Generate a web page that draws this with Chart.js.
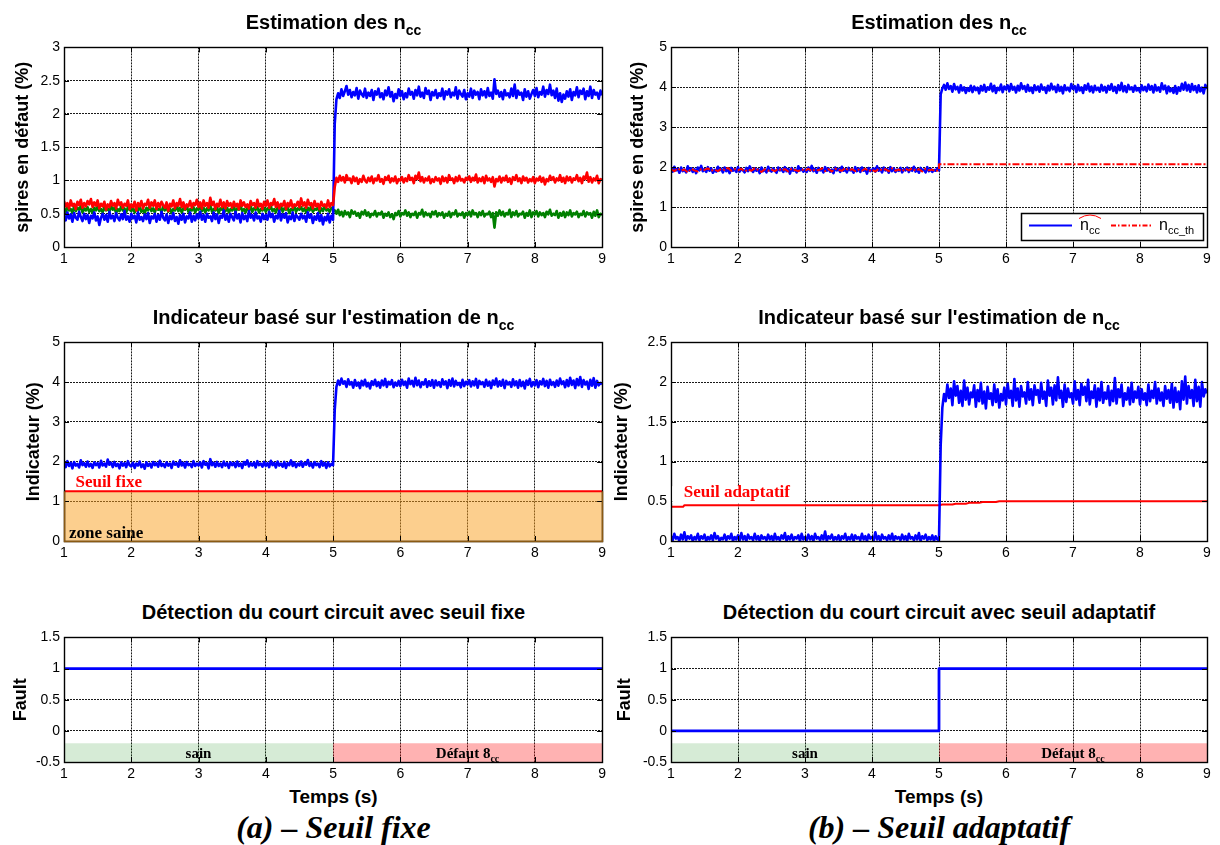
<!DOCTYPE html>
<html>
<head>
<meta charset="utf-8">
<script src="https://cdn.jsdelivr.net/npm/chart.js@4.4.1/dist/chart.umd.min.js"></script>
<style>
  body { margin: 0; background: #fff; width: 1220px; height: 845px; position: relative; overflow: hidden;
         font-family: "Liberation Sans", Arial, sans-serif; }
  canvas { position: absolute; }
  .ttl { position: absolute; width: 540px; text-align: center; font-weight: bold; font-size: 20px;
         line-height: 22px; white-space: nowrap; color: #000; }
  .ttl sub { font-size: 14px; vertical-align: -6px; line-height: 0; }
  .xl { position: absolute; width: 540px; text-align: center; font-weight: bold; font-size: 19px; line-height: 20px; }
  .cap { position: absolute; width: 540px; text-align: center; font-family: "Liberation Serif", "Times New Roman", serif;
         font-style: italic; font-weight: bold; font-size: 32px; line-height: 34px; }
</style>
</head>
<body>
<canvas id="c1" width="610" height="230" style="left:0;top:35px"></canvas>
<canvas id="c2" width="610" height="230" style="left:610px;top:35px"></canvas>
<canvas id="c3" width="610" height="229" style="left:0;top:330px"></canvas>
<canvas id="c4" width="610" height="229" style="left:610px;top:330px"></canvas>
<canvas id="c5" width="610" height="155" style="left:0;top:625px"></canvas>
<canvas id="c6" width="610" height="155" style="left:610px;top:625px"></canvas>

<div class="ttl" style="left:63.5px;top:11px">Estimation des n<sub>cc</sub></div>
<div class="ttl" style="left:669px;top:11px">Estimation des n<sub>cc</sub></div>
<div class="ttl" style="left:63.5px;top:306px">Indicateur basé sur l'estimation de n<sub>cc</sub></div>
<div class="ttl" style="left:669px;top:306px">Indicateur basé sur l'estimation de n<sub>cc</sub></div>
<div class="ttl" style="left:63.5px;top:601px">Détection du court circuit avec seuil fixe</div>
<div class="ttl" style="left:669px;top:601px">Détection du court circuit avec seuil adaptatif</div>
<div class="xl" style="left:63.5px;top:787px">Temps (s)</div>
<div class="xl" style="left:669px;top:787px">Temps (s)</div>
<div class="cap" style="left:63.5px;top:810px">(a) – Seuil fixe</div>
<div class="cap" style="left:669px;top:810px">(b) – Seuil adaptatif</div>

<script>
// sampling grid of the noisy estimates: 1 s .. 9 s every 0.025 s (321 samples)
const tGrid = [];
for (let i = 0; i <= 320; i++) tGrid.push((1000 + i * 25) / 1000);
const tCoarse = tGrid.filter((v, i) => i % 2 === 0);   // 0.05 s, used by ncc_th

// axis ticks
const xTicks = [1, 2, 3, 4, 5, 6, 7, 8, 9];
const yTicksEst = [0, 0.5, 1, 1.5, 2, 2.5, 3];
const yTicks05 = [0, 1, 2, 3, 4, 5];
const yTicksInd = [0, 0.5, 1, 1.5, 2, 2.5];
const yTicksFault = [-0.5, 0, 0.5, 1, 1.5];

// (a) top: estimation of ncc, three phases (one row of 20 = half a second)
const nccBlueA = [
  0.47,0.40,0.52,0.43,0.49,0.38,0.51,0.44,0.41,0.53,0.45,0.39,0.50,0.42,0.48,0.36,0.47,0.43,0.52,0.40,
  0.46,0.33,0.44,0.50,0.41,0.48,0.38,0.53,0.43,0.47,0.39,0.51,0.44,0.40,0.49,0.42,0.54,0.41,0.46,0.38,
  0.50,0.43,0.47,0.37,0.52,0.41,0.45,0.39,0.49,0.42,0.51,0.36,0.46,0.43,0.50,0.38,0.48,0.41,0.53,0.44,
  0.40,0.49,0.36,0.47,0.42,0.51,0.39,0.45,0.35,0.48,0.41,0.50,0.37,0.46,0.43,0.52,0.38,0.47,0.40,0.49,
  0.43,0.53,0.41,0.48,0.38,0.50,0.44,0.46,0.39,0.52,0.42,0.49,0.36,0.47,0.44,0.55,0.41,0.48,0.38,0.50,
  0.45,0.40,0.53,0.43,0.49,0.37,0.51,0.42,0.47,0.39,0.54,0.44,0.48,0.40,0.52,0.43,0.46,0.38,0.50,0.42,
  0.48,0.41,0.53,0.45,0.50,0.38,0.47,0.43,0.55,0.40,0.49,0.44,0.51,0.37,0.46,0.42,0.52,0.39,0.48,0.45,
  0.41,0.50,0.43,0.47,0.38,0.52,0.44,0.49,0.36,0.46,0.41,0.51,0.39,0.48,0.34,0.45,0.40,0.50,0.37,0.47,
  0.41,1.85,2.22,2.31,2.24,2.37,2.27,2.34,2.42,2.29,2.36,2.25,2.33,2.28,2.39,2.23,2.35,2.30,2.26,2.38,
  2.24,2.32,2.27,2.36,2.21,2.34,2.29,2.38,2.25,2.31,2.22,2.35,2.28,2.40,2.26,2.33,2.19,2.30,2.24,2.37,
  2.27,2.34,2.22,2.31,2.25,2.38,2.29,2.33,2.23,2.36,2.28,2.41,2.26,2.32,2.24,2.39,2.30,2.35,2.21,2.33,
  2.28,2.36,2.24,2.31,2.27,2.38,2.22,2.34,2.29,2.37,2.25,2.32,2.28,2.40,2.23,2.35,2.30,2.26,2.36,2.22,
  2.31,2.26,2.38,2.24,2.35,2.29,2.33,2.22,2.37,2.28,2.34,2.25,2.39,2.27,2.32,2.23,2.52,2.30,2.35,2.26,
  2.33,2.22,2.36,2.28,2.31,2.25,2.38,2.27,2.44,2.24,2.35,2.29,2.32,2.21,2.37,2.26,2.34,2.23,2.30,2.36,
  2.27,2.39,2.25,2.33,2.29,2.41,2.26,2.36,2.30,2.44,2.28,2.35,2.24,2.38,2.20,2.31,2.18,2.29,2.23,2.34,
  2.26,2.37,2.21,2.33,2.28,2.40,2.25,2.35,2.30,2.38,2.22,2.34,2.27,2.41,2.24,2.36,2.29,2.32,2.23,2.35,
  2.28
];
const nccRedA = [
  0.69,0.61,0.66,0.58,0.70,0.62,0.65,0.57,0.68,0.63,0.71,0.59,0.66,0.61,0.69,0.64,0.72,0.60,0.67,0.62,
  0.70,0.58,0.65,0.61,0.68,0.56,0.64,0.60,0.69,0.62,0.66,0.58,0.71,0.63,0.67,0.59,0.65,0.62,0.70,0.57,
  0.64,0.60,0.68,0.55,0.66,0.61,0.69,0.58,0.65,0.63,0.71,0.59,0.67,0.62,0.70,0.57,0.66,0.60,0.68,0.63,
  0.59,0.67,0.54,0.65,0.61,0.70,0.58,0.66,0.62,0.72,0.60,0.67,0.57,0.64,0.61,0.69,0.59,0.66,0.63,0.71,
  0.60,0.67,0.58,0.70,0.62,0.66,0.59,0.74,0.63,0.68,0.57,0.65,0.61,0.71,0.60,0.67,0.58,0.69,0.62,0.66,
  0.59,0.68,0.61,0.65,0.57,0.70,0.62,0.67,0.60,0.64,0.58,0.69,0.63,0.66,0.59,0.71,0.61,0.65,0.57,0.68,
  0.62,0.70,0.59,0.66,0.63,0.72,0.60,0.67,0.58,0.65,0.62,0.69,0.57,0.66,0.61,0.70,0.59,0.64,0.62,0.68,
  0.60,0.73,0.62,0.67,0.59,0.71,0.63,0.66,0.58,0.69,0.61,0.65,0.57,0.68,0.62,0.64,0.59,0.70,0.60,0.66,
  0.63,0.90,1.04,0.98,1.07,1.00,1.05,0.97,1.08,1.01,1.03,0.96,1.06,0.99,1.04,0.95,1.02,0.98,1.07,1.00,
  0.97,1.04,0.99,1.06,0.96,1.03,1.00,1.08,0.98,1.02,0.95,1.05,1.01,1.07,0.97,1.03,0.99,1.06,0.96,1.02,
  1.00,1.05,0.97,1.03,0.99,1.08,1.01,1.04,0.96,1.07,1.02,1.12,0.99,1.05,0.97,1.03,1.00,1.06,0.96,1.02,
  0.98,1.05,1.00,1.03,0.95,1.06,0.99,1.04,0.97,1.08,1.01,1.03,0.96,1.05,0.99,1.07,1.00,1.02,0.97,1.04,
  1.01,1.06,0.98,1.04,1.00,1.09,0.97,1.03,0.99,1.05,0.96,1.07,1.00,1.03,0.98,1.05,0.91,1.02,0.99,1.06,
  0.97,1.04,1.00,1.07,0.98,1.03,0.95,1.05,1.01,1.08,0.99,1.03,0.96,1.06,1.00,1.04,0.97,1.02,0.99,1.05,
  0.96,1.03,1.00,1.06,0.98,1.04,0.94,1.02,0.99,1.07,1.01,1.05,0.97,1.03,1.00,1.08,0.98,1.04,0.96,1.06,
  1.00,1.05,0.97,1.03,1.01,1.08,0.99,1.04,0.96,1.06,1.02,1.12,0.98,1.05,0.97,1.03,1.00,1.07,0.96,1.02,
  1.01
];
const nccGreenA = [
  0.58,0.53,0.60,0.55,0.57,0.51,0.61,0.54,0.59,0.56,0.62,0.52,0.58,0.55,0.60,0.53,0.57,0.51,0.59,0.55,
  0.61,0.54,0.57,0.52,0.60,0.55,0.58,0.53,0.62,0.56,0.59,0.51,0.57,0.54,0.61,0.55,0.58,0.52,0.60,0.56,
  0.54,0.59,0.52,0.58,0.55,0.61,0.53,0.57,0.50,0.59,0.55,0.62,0.54,0.58,0.52,0.60,0.56,0.57,0.53,0.61,
  0.55,0.60,0.53,0.58,0.51,0.57,0.55,0.62,0.54,0.59,0.52,0.58,0.56,0.61,0.53,0.57,0.55,0.60,0.52,0.58,
  0.56,0.61,0.54,0.59,0.52,0.58,0.55,0.63,0.53,0.57,0.55,0.60,0.51,0.58,0.56,0.61,0.54,0.59,0.52,0.57,
  0.55,0.60,0.53,0.58,0.56,0.62,0.54,0.57,0.52,0.59,0.55,0.61,0.53,0.58,0.56,0.60,0.52,0.57,0.55,0.59,
  0.53,0.58,0.56,0.61,0.54,0.57,0.52,0.60,0.55,0.62,0.53,0.58,0.56,0.59,0.51,0.57,0.55,0.61,0.53,0.58,
  0.56,0.60,0.54,0.58,0.52,0.59,0.55,0.61,0.53,0.57,0.56,0.60,0.52,0.58,0.54,0.62,0.55,0.57,0.53,0.59,
  0.56,0.55,0.50,0.56,0.48,0.53,0.46,0.54,0.49,0.52,0.45,0.55,0.50,0.53,0.47,0.51,0.44,0.53,0.49,0.55,
  0.47,0.52,0.45,0.50,0.48,0.54,0.46,0.51,0.49,0.53,0.44,0.50,0.47,0.52,0.45,0.49,0.42,0.51,0.48,0.54,
  0.46,0.51,0.49,0.55,0.47,0.52,0.45,0.50,0.48,0.53,0.44,0.51,0.49,0.56,0.46,0.52,0.48,0.50,0.45,0.53,
  0.49,0.54,0.46,0.51,0.48,0.52,0.44,0.50,0.47,0.53,0.45,0.51,0.49,0.55,0.46,0.50,0.48,0.52,0.44,0.51,
  0.48,0.53,0.46,0.55,0.49,0.51,0.45,0.52,0.48,0.54,0.46,0.50,0.49,0.53,0.45,0.51,0.29,0.52,0.47,0.55,
  0.48,0.53,0.46,0.51,0.49,0.56,0.45,0.52,0.48,0.54,0.46,0.50,0.49,0.53,0.44,0.51,0.47,0.55,0.45,0.52,
  0.49,0.54,0.46,0.52,0.48,0.51,0.45,0.53,0.49,0.56,0.47,0.50,0.48,0.54,0.44,0.51,0.47,0.53,0.45,0.52,
  0.48,0.55,0.46,0.51,0.49,0.53,0.45,0.50,0.48,0.54,0.46,0.52,0.49,0.51,0.44,0.53,0.47,0.55,0.45,0.50,
  0.48
];

// (b) top: estimated ncc and theoretical ncc_th
const nccHatB = [
  1.97,1.89,2.01,1.92,1.96,1.86,1.99,1.90,1.94,1.87,2.02,1.91,1.97,1.88,1.95,1.85,1.99,1.92,2.03,1.90,
  1.95,1.88,2.00,1.91,1.97,1.86,1.93,1.89,2.01,1.92,1.96,1.87,1.99,1.90,1.94,1.85,1.98,1.91,1.95,1.88,
  2.00,1.89,1.96,1.92,1.87,1.98,1.90,2.02,1.93,1.88,1.97,1.91,1.95,1.85,1.99,1.90,1.94,1.87,2.01,1.92,
  1.89,1.97,1.91,1.86,1.99,1.92,1.95,1.88,2.00,1.90,1.96,1.84,1.98,1.91,1.94,1.87,2.02,1.92,1.96,1.89,
  1.94,1.88,1.99,1.91,2.03,1.90,1.96,1.86,1.98,1.92,1.95,1.87,2.00,1.91,1.97,1.89,1.94,1.85,1.99,1.92,
  1.96,1.88,2.01,1.91,1.95,1.87,1.98,1.92,1.94,1.86,2.00,1.90,1.97,1.88,1.99,1.91,1.95,1.84,1.98,1.90,
  1.93,1.97,1.89,2.02,1.91,1.96,1.87,1.99,1.92,1.95,1.86,2.00,1.90,1.97,1.88,1.94,1.91,1.98,1.87,1.95,
  1.92,1.99,1.88,1.96,1.91,2.01,1.89,1.95,1.86,1.98,1.92,1.94,1.87,2.00,1.90,1.96,1.88,1.93,1.91,1.97,
  1.92,3.82,3.97,4.06,3.94,4.10,3.96,4.03,3.89,4.08,3.95,4.01,3.87,4.05,3.92,4.00,3.86,3.98,3.91,4.04,
  3.88,4.02,3.93,3.99,3.85,4.03,3.92,4.06,3.89,4.00,3.94,4.09,3.90,4.04,3.86,3.99,3.93,4.07,3.88,4.02,
  3.95,4.05,3.90,4.08,3.94,4.01,3.87,4.04,3.92,4.10,3.96,4.03,3.89,4.06,3.91,3.99,3.86,4.05,3.93,4.02,
  3.89,4.07,3.94,4.00,3.86,4.04,3.92,4.09,3.95,4.02,3.88,4.06,3.91,4.01,3.85,4.05,3.93,3.99,3.90,4.08,
  3.96,4.03,3.88,4.06,3.92,4.00,3.86,4.05,3.94,4.09,3.90,4.02,3.87,4.04,3.93,3.99,3.89,4.06,3.92,4.01,
  3.87,4.04,3.94,4.08,3.91,4.01,3.86,4.05,3.93,4.11,3.90,4.03,3.88,4.06,3.95,4.00,3.89,4.04,3.92,3.98,
  3.88,4.05,3.93,4.01,3.90,4.07,3.94,4.03,3.87,4.06,3.92,4.00,3.89,4.10,3.95,4.04,3.85,4.02,3.90,3.97,
  3.86,4.03,3.84,4.00,3.91,4.09,3.94,4.12,3.92,4.06,3.89,4.08,3.93,4.03,3.87,4.05,3.90,3.99,3.85,4.06,
  3.96
];
const nccThPre = [
  1.95,1.90,1.97,1.91,1.94,1.87,1.96,1.92,1.89,1.95,1.93,1.97,1.91,1.94,1.90,1.96,1.93,1.98,1.91,1.95,
  1.92,1.96,1.89,1.94,1.91,1.97,1.93,1.88,1.95,1.91,1.94,1.90,1.96,1.92,1.95,1.89,1.96,1.93,1.90,1.95,
  1.91,1.96,1.90,1.94,1.92,1.97,1.90,1.95,1.89,1.96,1.93,1.91,1.98,1.92,1.95,1.90,1.94,1.91,1.96,1.90,
  1.94,1.89,1.96,1.92,1.95,1.90,1.97,1.91,1.94,1.90,1.96,1.92,1.97,1.91,1.95,1.89,1.96,1.92,1.94,1.90,
  1.93
];
const nccThPostT = [5.0, 9.0];
const nccThPost = [2.07, 2.07];

// (a) middle: indicator and fixed threshold
const indA = [
  1.95,1.86,2.01,1.89,1.97,1.83,1.99,1.90,1.94,1.85,2.03,1.91,1.96,1.87,2.00,1.88,1.94,1.84,1.98,1.91,
  1.96,1.85,2.02,1.90,1.95,1.87,2.05,1.92,1.97,1.86,1.99,1.89,1.94,1.83,1.98,1.90,1.96,1.86,2.01,1.91,
  1.88,1.97,1.84,1.95,1.90,2.00,1.86,1.93,1.82,1.98,1.89,1.95,1.85,1.99,1.91,1.96,1.87,2.02,1.89,1.94,
  1.86,1.98,1.90,1.95,1.84,2.00,1.92,1.96,1.87,2.03,1.90,1.97,1.85,1.99,1.91,1.94,1.86,2.01,1.89,1.95,
  1.90,1.98,1.85,2.01,1.92,1.96,1.83,2.06,1.91,1.97,1.87,1.99,1.89,1.95,1.86,2.00,1.90,1.96,1.84,1.98,
  1.91,1.97,1.86,2.00,1.89,1.95,1.84,1.99,1.92,2.03,1.88,1.96,1.90,1.98,1.85,2.01,1.91,1.95,1.87,1.99,
  1.89,1.96,1.86,2.02,1.91,1.97,1.85,2.00,1.90,1.95,1.87,1.99,1.84,1.96,1.91,2.03,1.89,1.98,1.86,1.95,
  1.90,2.00,1.87,1.97,1.92,2.04,1.89,1.96,1.85,1.99,1.91,1.95,1.86,2.01,1.90,1.97,1.84,1.98,1.88,1.94,
  1.91,3.30,3.88,4.04,3.93,4.09,3.96,4.02,3.88,4.07,3.94,4.00,3.86,4.05,3.91,3.99,3.85,4.03,3.92,4.06,
  3.89,3.98,3.84,4.02,3.93,4.06,3.90,4.00,3.86,4.04,3.92,4.08,3.88,4.01,3.94,4.05,3.87,3.99,3.91,4.03,
  3.90,4.06,3.93,4.01,3.86,4.09,3.95,4.03,3.89,4.11,3.92,4.04,3.87,4.00,3.94,4.07,3.88,4.02,3.91,4.05,
  3.86,4.04,3.92,4.00,3.88,4.07,3.94,4.02,3.85,4.05,3.91,4.09,3.89,4.03,3.93,3.98,3.87,4.06,3.90,4.01,
  3.94,4.05,3.89,4.02,3.92,4.08,3.86,4.03,3.95,4.00,3.88,4.06,3.91,4.01,3.85,4.04,3.93,4.09,3.89,4.02,
  3.91,4.06,3.85,4.03,3.94,4.00,3.88,4.07,3.92,4.02,3.86,4.05,3.90,4.01,3.84,4.04,3.93,4.08,3.89,4.00,
  3.92,4.05,3.87,4.02,3.94,4.08,3.90,4.03,3.86,4.06,3.93,4.00,3.88,4.04,3.91,4.09,3.95,4.02,3.87,4.05,
  3.90,4.11,3.93,4.04,3.85,4.08,3.92,4.13,3.88,4.05,3.94,4.01,3.83,4.06,3.91,4.10,3.86,4.03,3.92,3.98,
  3.95
];
const fixT = [1, 9];
const fixThr = [1.25, 1.25];

// (b) middle: indicator and adaptive threshold
const indB = [
  0.06,0.01,0.09,0.03,0.05,0.00,0.08,0.02,0.11,0.01,0.06,0.03,0.07,0.00,0.05,0.02,0.09,0.01,0.06,0.03,
  0.08,0.00,0.05,0.02,0.07,0.01,0.10,0.03,0.06,0.00,0.04,0.02,0.08,0.01,0.06,0.03,0.09,0.00,0.05,0.02,
  0.07,0.01,0.10,0.02,0.06,0.00,0.08,0.03,0.05,0.01,0.09,0.02,0.06,0.00,0.07,0.03,0.05,0.01,0.08,0.02,
  0.06,0.00,0.09,0.02,0.05,0.01,0.07,0.03,0.10,0.00,0.06,0.02,0.08,0.01,0.05,0.03,0.07,0.00,0.09,0.02,
  0.05,0.01,0.08,0.02,0.06,0.00,0.09,0.03,0.05,0.01,0.07,0.02,0.12,0.00,0.06,0.03,0.08,0.01,0.05,0.02,
  0.07,0.00,0.06,0.03,0.09,0.01,0.05,0.02,0.08,0.00,0.07,0.03,0.05,0.01,0.09,0.02,0.06,0.00,0.08,0.03,
  0.05,0.01,0.11,0.02,0.06,0.00,0.08,0.03,0.05,0.01,0.07,0.02,0.09,0.00,0.06,0.03,0.05,0.01,0.08,0.02,
  0.06,0.00,0.09,0.03,0.05,0.01,0.07,0.02,0.10,0.00,0.06,0.03,0.08,0.01,0.05,0.02,0.07,0.00,0.06,0.02,
  0.01,1.20,1.68,1.85,1.76,1.97,1.80,1.92,1.71,2.01,1.83,1.95,1.74,1.89,1.70,2.02,1.78,1.93,1.72,1.87,
  1.81,1.96,1.69,1.90,1.76,1.99,1.73,1.88,1.67,1.94,1.79,1.86,1.71,1.97,1.75,1.91,1.68,1.85,1.77,1.93,
  1.72,1.98,1.80,1.89,1.70,2.04,1.77,1.92,1.69,1.95,1.82,1.87,1.73,2.00,1.78,1.91,1.71,1.96,1.84,1.90,
  1.74,1.99,1.79,1.88,1.70,2.02,1.83,1.93,1.72,1.96,1.77,2.06,1.80,1.89,1.69,1.97,1.75,1.92,1.81,1.86,
  1.73,2.01,1.78,1.90,1.71,1.98,1.84,1.94,1.76,2.03,1.72,1.88,1.80,1.96,1.69,1.92,1.77,2.00,1.74,1.87,
  1.79,1.95,1.71,1.89,1.76,2.05,1.73,1.91,1.81,1.97,1.70,1.86,1.78,1.93,1.72,1.99,1.75,1.88,1.80,1.94,
  1.72,1.91,1.78,1.86,1.71,1.97,1.76,1.89,1.80,2.00,1.73,1.92,1.77,1.87,1.70,1.95,1.79,1.90,1.74,1.98,
  1.68,1.93,1.75,1.88,1.66,2.01,1.78,2.07,1.73,1.95,1.80,1.90,1.70,2.03,1.76,1.94,1.69,2.00,1.82,1.91,
  1.86
];
const adaptT = [1, 1.18, 1.2, 5.0, 5.05, 5.2, 5.25, 5.4, 5.45, 5.6, 5.65, 5.85, 5.9, 9];
const adaptThr = [0.43, 0.43, 0.45, 0.45, 0.46, 0.46, 0.47, 0.47, 0.48, 0.48, 0.49, 0.49, 0.50, 0.50];

// bottom: fault flags
const faultAT = [1, 9];
const faultA = [1, 1];
const faultBT = [1, 5, 5, 9];
const faultB = [0, 0, 1, 1];

// bottom: background zones (healthy / 8 turns fault)
const zoneSainT = [1, 5];
const zoneDefT = [5, 9];
const zoneTop = [-0.2, -0.2];

const SANS = '"Liberation Sans", Arial, sans-serif';
const SERIF = '"Liberation Serif", "Times New Roman", serif';
Chart.defaults.font.family = SANS;
Chart.defaults.color = '#000';

const NOISY_W = 2.6;

const pts = (xs, ys) => xs.map((x, i) => ({ x: x, y: ys[i] }));

function lineDs(xs, ys, color, width, extra) {
  return Object.assign({
    data: pts(xs, ys), borderColor: color, borderWidth: width, pointRadius: 0,
    fill: false, tension: 0, order: 1, borderJoinStyle: 'round'
  }, extra || {});
}

function zoneDs(xs, ys, bg) {
  return { data: pts(xs, ys), borderWidth: 0, borderColor: 'rgba(0,0,0,0)', backgroundColor: bg,
           pointRadius: 0, fill: 'start', order: 10 };
}

// MATLAB-like box with inward ticks on all sides
const boxPlugin = {
  id: 'box',
  afterDatasetsDraw(chart) {
    const { ctx, chartArea: a, scales: { x, y } } = chart;
    ctx.save();
    ctx.setLineDash([]);
    ctx.strokeStyle = '#000';
    ctx.lineWidth = 1;
    ctx.beginPath();
    x.ticks.forEach(tk => {
      const px = Math.round(x.getPixelForValue(tk.value)) + 0.5;
      ctx.moveTo(px, a.bottom); ctx.lineTo(px, a.bottom - 5);
      ctx.moveTo(px, a.top); ctx.lineTo(px, a.top + 5);
    });
    y.ticks.forEach(tk => {
      const py = Math.round(y.getPixelForValue(tk.value)) + 0.5;
      ctx.moveTo(a.left, py); ctx.lineTo(a.left + 5, py);
      ctx.moveTo(a.right, py); ctx.lineTo(a.right - 5, py);
    });
    ctx.stroke();
    ctx.lineWidth = 1.4;
    const l = Math.round(a.left) + 0.5, t = Math.round(a.top) + 0.5;
    ctx.strokeRect(l, t, Math.round(a.right) - Math.round(a.left), Math.round(a.bottom) - Math.round(a.top));
    ctx.restore();
  }
};

function subText(ctx, x, y, main, sub, size, family, weight, align) {
  const subSize = Math.round(size * 0.68);
  ctx.font = `${weight} ${size}px ${family}`;
  const w1 = ctx.measureText(main).width;
  ctx.font = `${weight} ${subSize}px ${family}`;
  const w2 = ctx.measureText(sub).width;
  const x0 = align === 'center' ? x - (w1 + w2) / 2 : x;
  ctx.textAlign = 'left';
  ctx.textBaseline = 'alphabetic';
  ctx.font = `${weight} ${size}px ${family}`;
  ctx.fillText(main, x0, y);
  ctx.font = `${weight} ${subSize}px ${family}`;
  ctx.fillText(sub, x0 + w1, y + size * 0.28);
}

function makeChart(id, cfg) {
  const right = id % 2 === 0;
  return new Chart(document.getElementById('c' + id), {
    type: 'line',
    data: { datasets: cfg.datasets },
    options: {
      responsive: false, animation: false, devicePixelRatio: 1, events: [],
      layout: { padding: { top: 10, right: right ? 13 : 7, left: 0, bottom: 0 } },
      plugins: { legend: { display: false }, tooltip: { enabled: false } },
      scales: {
        x: {
          type: 'linear', min: 1, max: 9,
          afterBuildTicks: s => { s.ticks = xTicks.map(v => ({ value: v })); },
          ticks: { font: { size: 14 }, padding: 4, maxRotation: 0, color: '#000' },
          grid: { color: '#1a1a1a', lineWidth: 1, drawTicks: false },
          border: { display: false, dash: [2, 1] },
          afterFit: s => { s.height = 18; }
        },
        y: {
          type: 'linear', min: cfg.yTicks[0], max: cfg.yTicks[cfg.yTicks.length - 1],
          afterBuildTicks: s => { s.ticks = cfg.yTicks.map(v => ({ value: v })); },
          ticks: { font: { size: 14 }, padding: 4, color: '#000', callback: v => String(Math.round(v * 100) / 100) },
          grid: { color: '#1a1a1a', lineWidth: 1, drawTicks: false },
          border: { display: false, dash: [2, 1] },
          title: { display: true, text: cfg.yTitle, color: '#000', font: { size: 18, weight: 'bold' },
                   padding: { top: cfg.titlePad, bottom: 0 } },
          afterFit: s => { s.width = right ? 61 : 64; }
        }
      }
    },
    plugins: [boxPlugin, { id: 'ann' + id, afterDatasetsDraw: cfg.annotate || (() => {}) }]
  });
}

// (a) top
makeChart(1, {
  yTicks: yTicksEst, yTitle: 'spires en défaut (%)', titlePad: 12,
  datasets: [
    lineDs(tGrid, nccRedA, '#ff0000', NOISY_W, { order: 1 }),
    lineDs(tGrid, nccBlueA, '#0000ff', NOISY_W, { order: 2 }),
    lineDs(tGrid, nccGreenA, '#008000', NOISY_W, { order: 3 })
  ]
});

// (b) top
makeChart(2, {
  yTicks: yTicks05, yTitle: 'spires en défaut (%)', titlePad: 17,
  datasets: [
    lineDs(tCoarse.slice(0, 81).concat(nccThPostT), nccThPre.concat(nccThPost), '#ff0000', 2,
           { order: 1, borderDash: [7, 2, 2, 2] }),
    lineDs(tGrid, nccHatB, '#0000ff', NOISY_W, { order: 2 })
  ],
  annotate(chart) {
    const { ctx, chartArea: a } = chart;
    const bw = 182, bh = 27;
    const bx = Math.round(a.right) - 186, by = Math.round(a.bottom) - 34;
    ctx.save();
    ctx.fillStyle = '#fff';
    ctx.fillRect(bx, by, bw, bh);
    ctx.strokeStyle = '#000';
    ctx.lineWidth = 1.5;
    ctx.strokeRect(bx + 0.5, by + 0.5, bw, bh);
    const my = by + 12.5;
    ctx.lineWidth = 2;
    ctx.strokeStyle = '#0000ff';
    ctx.beginPath(); ctx.moveTo(bx + 8, my); ctx.lineTo(bx + 51, my); ctx.stroke();
    ctx.strokeStyle = '#ff0000';
    ctx.setLineDash([5, 2, 1.5, 2]);
    ctx.beginPath(); ctx.moveTo(bx + 90, my); ctx.lineTo(bx + 130, my); ctx.stroke();
    ctx.setLineDash([]);
    ctx.fillStyle = '#000';
    subText(ctx, bx + 59, my + 4, 'n', 'cc', 16, SANS, 'normal', 'left');
    // hat over n_cc
    ctx.lineWidth = 1;
    ctx.beginPath();
    ctx.moveTo(bx + 58, my - 7);
    ctx.quadraticCurveTo(bx + 69, my - 14, bx + 80, my - 7);
    ctx.stroke();
    subText(ctx, bx + 138, my + 4, 'n', 'cc_th', 16, SANS, 'normal', 'left');
    ctx.restore();
  }
});

// (a) middle
makeChart(3, {
  yTicks: yTicks05, yTitle: 'Indicateur (%)', titlePad: 23,
  datasets: [
    lineDs(tGrid, indA, '#0000ff', NOISY_W, { order: 1 }),
    lineDs(fixT, fixThr, '#ff0000', 2, { order: 5, fill: 'start', backgroundColor: 'rgba(250,160,30,0.5)' })
  ],
  annotate(chart) {
    const { ctx, scales: { x, y } } = chart;
    ctx.save();
    // edge of the healthy zone
    ctx.strokeStyle = '#8a5a14';
    ctx.lineWidth = 1.5;
    const zl = Math.round(x.getPixelForValue(1)) + 0.5, zr = Math.round(x.getPixelForValue(9)) + 0.5;
    const zb = Math.round(y.getPixelForValue(0)) + 0.5, zt = y.getPixelForValue(1.25);
    ctx.beginPath();
    ctx.moveTo(zl, zt); ctx.lineTo(zl, zb); ctx.lineTo(zr, zb); ctx.lineTo(zr, zt);
    ctx.stroke();
    // label box
    ctx.fillStyle = '#fff';
    const bx = x.getPixelForValue(1.12), by = y.getPixelForValue(1.72);
    ctx.fillRect(bx, by, x.getPixelForValue(2.22) - bx, y.getPixelForValue(1.29) - by);
    ctx.textAlign = 'left';
    ctx.textBaseline = 'alphabetic';
    ctx.font = `bold 17px ${SERIF}`;
    ctx.fillStyle = '#ff0000';
    ctx.fillText('Seuil fixe', x.getPixelForValue(1.17), y.getPixelForValue(1.35));
    ctx.fillStyle = '#000';
    ctx.fillText('zone saine', x.getPixelForValue(1.075), y.getPixelForValue(0.08));
    ctx.restore();
  }
});

// (b) middle
makeChart(4, {
  yTicks: yTicksInd, yTitle: 'Indicateur (%)', titlePad: 1,
  datasets: [
    lineDs(tGrid, indB, '#0000ff', NOISY_W, { order: 1 }),
    lineDs(adaptT, adaptThr, '#ff0000', 2, { order: 2 })
  ],
  annotate(chart) {
    const { ctx, scales: { x, y } } = chart;
    ctx.save();
    ctx.fillStyle = '#fff';
    const bx = x.getPixelForValue(1.02), by = y.getPixelForValue(0.69);
    ctx.fillRect(bx, by, x.getPixelForValue(2.98) - bx, y.getPixelForValue(0.475) - by);
    ctx.textAlign = 'left';
    ctx.textBaseline = 'alphabetic';
    ctx.font = `bold 17px ${SERIF}`;
    ctx.fillStyle = '#ff0000';
    ctx.fillText('Seuil adaptatif', x.getPixelForValue(1.19), y.getPixelForValue(0.55));
    ctx.restore();
  }
});

function zoneLabels(chart) {
  const { ctx, scales: { x, y } } = chart;
  ctx.save();
  ctx.fillStyle = '#000';
  ctx.font = `bold 15px ${SERIF}`;
  ctx.textAlign = 'center';
  ctx.fillText('sain', x.getPixelForValue(3), y.getPixelForValue(-0.44));
  subText(ctx, x.getPixelForValue(7), y.getPixelForValue(-0.44), 'Défaut 8', 'cc', 15, SERIF, 'bold', 'center');
  ctx.restore();
}

// (a) bottom
makeChart(5, {
  yTicks: yTicksFault, yTitle: 'Fault', titlePad: 10,
  datasets: [
    lineDs(faultAT, faultA, '#0000ff', 2.8, { order: 1 }),
    zoneDs(zoneSainT, zoneTop, 'rgba(0,128,0,0.16)'),
    zoneDs(zoneDefT, zoneTop, 'rgba(255,0,0,0.3)')
  ],
  annotate: zoneLabels
});

// (b) bottom
makeChart(6, {
  yTicks: yTicksFault, yTitle: 'Fault', titlePad: 4,
  datasets: [
    lineDs(faultBT, faultB, '#0000ff', 2.8, { order: 1 }),
    zoneDs(zoneSainT, zoneTop, 'rgba(0,128,0,0.16)'),
    zoneDs(zoneDefT, zoneTop, 'rgba(255,0,0,0.3)')
  ],
  annotate: zoneLabels
});
</script>
</body>
</html>
